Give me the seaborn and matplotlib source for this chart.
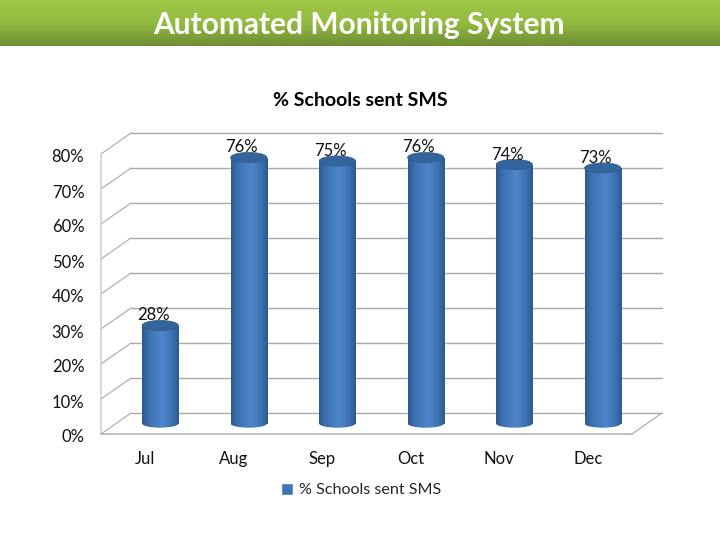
import matplotlib
matplotlib.use("Agg")
import matplotlib.pyplot as plt
from matplotlib.colors import LinearSegmentedColormap
from matplotlib.patches import Ellipse
from matplotlib.transforms import ScaledTranslation
import numpy as np
import pandas as pd
import seaborn as sns

months = ["Jul", "Aug", "Sep", "Oct", "Nov", "Dec"]
schools_sent = [28, 76, 75, 76, 74, 73]
y_ticks = [0, 10, 20, 30, 40, 50, 60, 70, 80]
series_name = "% Schools sent SMS"
slide_title = "Automated Monitoring System"

W, H = 720, 540
# front plane of the fake 3d box, in pixels
LEFT, RIGHT, TOP, BOTTOM = 101, 632, 154, 434
PX_PER_PCT = (BOTTOM - TOP) / 80
DX = 30 / ((RIGHT - LEFT) / 6)  # depth in category units
DY = 21 / PX_PER_PCT  # depth in percent units
FOOT = 4  # percent units of room under the cylinders
GRID = "#a8a8a8"


def px_axes(fig, dx=0, dy=0, below=0):
    return fig.add_axes([(LEFT + dx) / W, 1 - (BOTTOM - dy + below) / H,
                         (RIGHT - LEFT) / W, (BOTTOM - TOP + below) / H])


sns.set_theme(style="white")
plt.rcParams["font.family"] = ["Lato", "DejaVu Sans"]

df = pd.DataFrame({"month": months, "pct": schools_sent})
fig = plt.figure(figsize=(W / 100, H / 100), dpi=100)

# green banner
banner = fig.add_axes([0, 1 - 46 / H, 1, 46 / H])
green = LinearSegmentedColormap.from_list("g", ["#9fc846", "#93bb40", "#6f8f34"])
banner.imshow(np.linspace(0, 1, 46)[:, None], cmap=green, aspect="auto")
banner.axis("off")
fig.text(359 / W, 1 - 25 / H, slide_title, color="white", fontsize=21.5,
         fontweight="bold", ha="center", va="center")
fig.text(360 / W, 1 - 101 / H, series_name, color="black", fontsize=14,
         fontweight="bold", ha="center", va="center")

# walls and floor
ax = px_axes(fig)
ax.set_xlim(-0.5, 5.5)
ax.set_ylim(0, 80)
for v in y_ticks:
    ax.plot([-0.5, -0.5 + DX], [v, v + DY], color=GRID, lw=0.8, clip_on=False)
    ax.plot([-0.5 + DX, 5.5 + DX], [v + DY, v + DY], color=GRID, lw=1.0, clip_on=False)
ax.plot([5.5, 5.5 + DX], [0, DY], color=GRID, lw=0.8, clip_on=False)
sns.despine(ax=ax, top=True, right=True)
ax.spines["left"].set_color("#d2d2d2")
ax.spines["left"].set_linewidth(1.2)
ax.spines["bottom"].set_color("#b5b5b5")
ax.spines["bottom"].set_linewidth(1.2)
ax.set_yticks(y_ticks)
ax.set_yticklabels([f"{v}%" for v in y_ticks], fontsize=12)
ax.set_xticks(np.arange(-0.5, 6, 1), minor=True)
ax.set_xticks(range(6))
ax.set_xticklabels(months, fontsize=12)
ax.tick_params(axis="x", which="major", length=0, pad=12, colors="#111111")
ax.tick_params(axis="x", which="minor", length=5, width=1, color="#9a9a9a")
ax.tick_params(axis="y", length=5, width=1, pad=7, colors="#111111", color="#b5b5b5")
# labels sit a little low in the original
nudge = ScaledTranslation(0, -2 / 100, fig.dpi_scale_trans)
for lab in ax.get_yticklabels():
    lab.set_transform(lab.get_transform() + nudge)

# cylinders sit half way into the box
bars_ax = px_axes(fig, dx=15, dy=10.5, below=FOOT * PX_PER_PCT)
bars_ax.patch.set_alpha(0)
sns.barplot(data=df, x="month", y="pct", ax=bars_ax, width=0.41, color="#3f75b5",
            saturation=1, label=series_name, legend=False)
bars_ax.axis("off")

shade = LinearSegmentedColormap.from_list(
    "cyl", [(0, "#2c5a8e"), (0.18, "#3d72b2"), (0.55, "#4e86c9"), (0.82, "#3d72b2"), (1, "#2c5a8e")])
grad = np.linspace(0, 1, 64)[None, :]
for bar, val in zip(list(bars_ax.patches), schools_sent):
    x0, w = bar.get_x(), bar.get_width()
    xc = x0 + w / 2
    foot = Ellipse((xc, 0), w, 2.4, facecolor="none", edgecolor="none")
    bars_ax.add_patch(foot)
    for clip, y0, y1 in [(bar, 0, val), (foot, -1.2, 1.2)]:
        im = bars_ax.imshow(grad, cmap=shade, aspect="auto", extent=(x0, x0 + w, y0, y1), zorder=3)
        im.set_clip_path(clip)
    bars_ax.add_patch(Ellipse((xc, val), w, 2.9, facecolor="#34649c", edgecolor="#2f5c90",
                              lw=0.5, zorder=4, clip_on=False))
    bars_ax.annotate(f"{val}%", (xc, val), xytext=(-7, 10), textcoords="offset pixels",
                     ha="center", va="center", fontsize=12, color="#111111", zorder=5,
                     annotation_clip=False)
bars_ax.set_xlim(-0.5, 5.5)
bars_ax.set_ylim(-FOOT, 80)

handles = [plt.Rectangle((0, 0), 1, 1, facecolor="#3f75b5")]
fig.legend(handles, [series_name], loc="center", bbox_to_anchor=(361 / W, 1 - 490 / H),
           frameon=False, fontsize=11.6, handlelength=0.75, handleheight=0.75, handletextpad=0.4)

fig.savefig("out.png", dpi=100)
